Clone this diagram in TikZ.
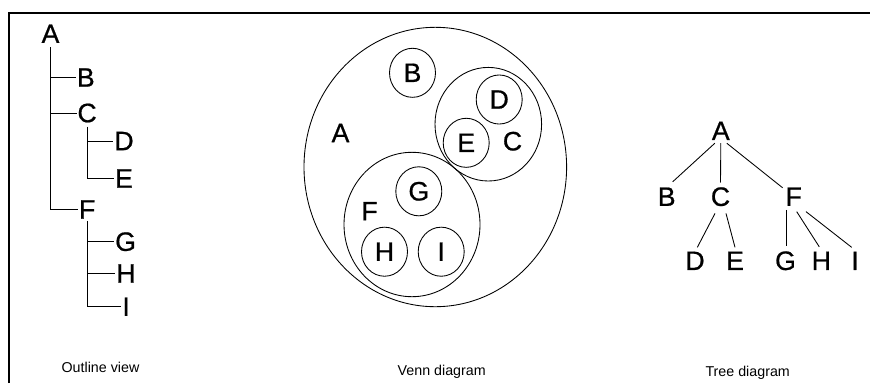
\documentclass[tikz,border=0pt]{standalone}
\usepackage{fontspec}
\setmainfont{Liberation Sans}
\newfontfamily\lblfont{Liberation Sans}[FakeBold=0.7]
\usepackage{tikz}
\usetikzlibrary{shapes.geometric}
\tikzset{
  lbl/.style={font=\lblfont\fontsize{20}{20}\selectfont,inner sep=0pt},
  olbl/.style={lbl,inner xsep=0.5pt},
  vset/.style={draw,ellipse,lbl,line width=0.65pt,minimum width=34.5pt,minimum height=36.8pt},
  bigset/.style={line width=0.65pt},
  oline/.style={line width=0.65pt},
  tedge/.style={line width=0.65pt},
  frame/.style={line width=1.5pt},
  capt/.style={font=\fontsize{10.7}{12}\selectfont,anchor=base,inner sep=0pt}
}
\begin{document}
\begin{tikzpicture}[x=0.75pt,y=-0.75pt]
  \useasboundingbox (0,0) rectangle (870,383);
  \draw[frame] (9,383) -- (9,13) -- (870,13);
  % outline view
  \node[olbl] (oA) at (50.5,33.7) {A};
  \node[olbl] (oB) at (85.8,77.5) {B}; \node[olbl] (oC) at (87.1,113) {C};
  \node[olbl] (oD) at (124,141) {D}; \node[olbl] (oE) at (124,178.5) {E};
  \node[olbl] (oF) at (87.2,209.5) {F};
  \node[olbl] (oG) at (125.6,241.7) {G}; \node[olbl] (oH) at (126,273.5) {H}; \node[olbl] (oI) at (126.1,306.7) {I};
  \draw[oline] ([shift={(0,4)}]oA.south) |- (oF.west);
  \draw[oline] (oA.south |- oB.west) -- (oB.west); \draw[oline] (oA.south |- oC.west) -- (oC.west);
  \draw[oline] ([shift={(0,4)}]oC.south) |- (oE.west); \draw[oline] (oC.south |- oD.west) -- (oD.west);
  \draw[oline] ([shift={(0,2)}]oF.south) |- (oI.west);
  \draw[oline] (oF.south |- oG.west) -- (oG.west); \draw[oline] (oF.south |- oH.west) -- (oH.west);
  \node[capt] (cOutline) at (100.5,372) {Outline view};
  % venn diagram
  \draw[bigset] (435.3,167) ellipse [x radius=131.3,y radius=139.7];
  \draw[bigset] (488.3,124.2) ellipse [x radius=53.3,y radius=56.8];
  \draw[bigset] (412,224.5) ellipse [x radius=68,y radius=72.2];
  \node[lbl] (vA) at (340.5,133) {A}; \node[lbl] (vC) at (512.5,141.2) {C}; \node[lbl] (vF) at (369.5,211.2) {F};
  \node[vset] (vB) at (412.5,72.8) {B};
  \node[vset] (vD) at (499.2,99.5) {D}; \node[vset] (vE) at (466.2,142.8) {E};
  \node[vset] (vG) at (418.8,191.3) {G}; \node[vset] (vH) at (384.5,251.7) {H}; \node[vset] (vI) at (441.2,251.7) {I};
  \node[capt] (cVenn) at (441.7,375) {Venn diagram};
  % tree diagram
  \node[lbl] (tA) at (720.8,130.8) {A};
  \node[lbl] (tB) at (666.7,196.7) {B}; \node[lbl] (tC) at (720.5,196.7) {C}; \node[lbl] (tF) at (793.7,196.7) {F};
  \node[lbl] (tD) at (695,260.8) {D}; \node[lbl] (tE) at (735,260.8) {E};
  \node[lbl] (tG) at (785.5,260.8) {G}; \node[lbl] (tH) at (821.3,260.8) {H}; \node[lbl] (tI) at (855,260.8) {I};
  \draw[tedge] ([shift={(-6,3)}]tA.south) -- ([shift={(6,-5.5)}]tB.north);
  \draw[tedge] ([shift={(0,3)}]tA.south) -- ([shift={(0,-4.5)}]tC.north);
  \draw[tedge] ([shift={(6,3)}]tA.south) -- ([shift={(-2.7,0.5)}]tF.north west);
  \draw[tedge] ([shift={(-5.5,7)}]tC.south) -- ([shift={(2.3,-4)}]tD.north);
  \draw[tedge] ([shift={(5.5,7)}]tC.south) -- ([shift={(0,-4)}]tE.north);
  \draw[tedge] ([shift={(-7,3.8)}]tF.south) -- ([shift={(1.2,-5.3)}]tG.north);
  \draw[tedge] ([shift={(3,5.5)}]tF.south) -- ([shift={(-2,-4.5)}]tH.north);
  \draw[tedge] ([shift={(12.3,5.5)}]tF.south) -- ([shift={(-3.3,-4)}]tI.north);
  \node[capt] (cTree) at (747.7,376) {Tree diagram};
\end{tikzpicture}
\end{document}
